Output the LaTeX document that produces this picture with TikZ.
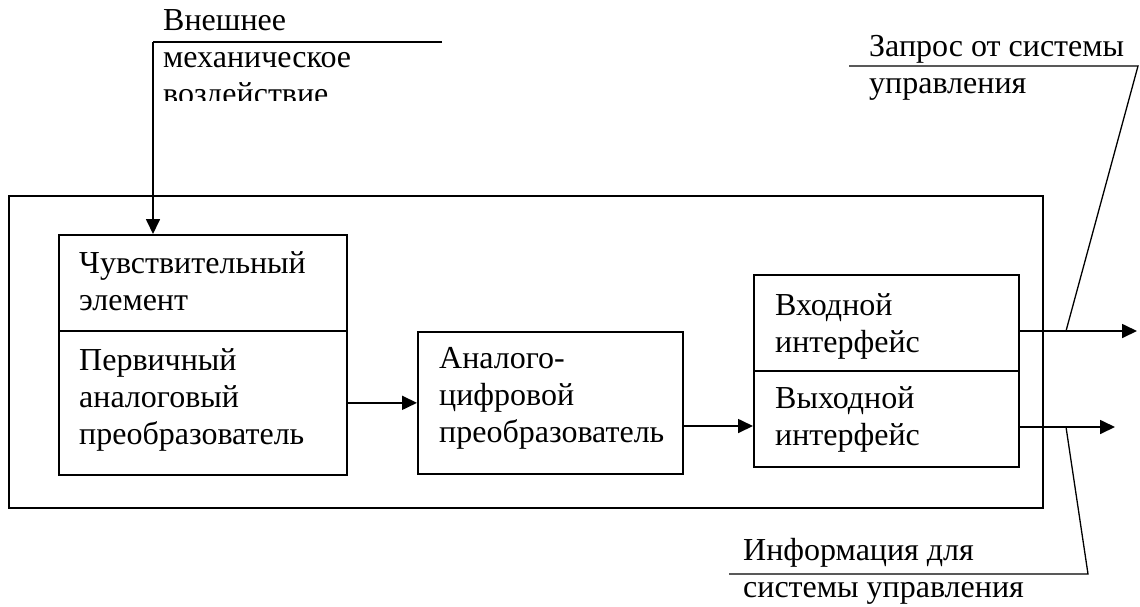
\documentclass[tikz,border=0pt]{standalone}
\usepackage{fontspec}
\setmainfont{Liberation Serif}
\usetikzlibrary{arrows.meta}
% caption lines, aligned on the baseline of the first line
\newcommand\blocklines[1]{\begin{tabular}[t]{@{}l@{}}#1\end{tabular}}
\begin{document}
\begin{tikzpicture}[x=1pt,y=-1pt,
  block/.style={draw,line width=1.7pt,anchor=north west,inner sep=0pt},
  housing/.style={draw,line width=1.6pt,anchor=north west,inner sep=0pt},
  txt/.style={anchor=base west,inner sep=0pt,
              font=\fontsize{32}{37}\selectfont},
  arr/.style={line width=1.7pt,-{Triangle[length=15pt,width=14pt]}},
  lead/.style={line width=1.3pt}]
  \useasboundingbox (0,0) rectangle (1140,606);

  % enclosure of the sensor
  \node[housing,minimum width=1034,minimum height=312] (case) at (8,195) {};

  % functional blocks
  \node[block,minimum width=288,minimum height=96]  (sens) at (58,234) {};
  \node[block,minimum width=288,minimum height=144] (pap)  at (58,330) {};
  \node[block,minimum width=265,minimum height=142] (adc)  at (417,331) {};
  \node[block,minimum width=265,minimum height=96]  (inp)  at (753,274) {};
  \node[block,minimum width=265,minimum height=96]  (outp) at (753,370) {};

  % block captions
  \node[txt] (tsens) at ([shift={(21,39)}]sens.north west) {\blocklines{Чувствительный\\элемент}};
  \node[txt] (tpap)  at ([shift={(21,40)}]pap.north west)  {\blocklines{Первичный\\аналоговый\\преобразователь}};
  \node[txt] (tadc)  at ([shift={(22,37)}]adc.north west)  {\blocklines{Аналого-\\цифровой\\преобразователь}};
  \node[txt] (tinp)  at ([shift={(22,41)}]inp.north west)  {\blocklines{Входной\\интерфейс}};
  \node[txt] (toutp) at ([shift={(22,38)}]outp.north west) {\blocklines{Выходной\\интерфейс}};

  % external mechanical action
  \begin{scope}
    \clip (150,0) rectangle (460,100);
    \node[txt] (tmech) at (163,30) {\blocklines{Внешнее\\механическое\\воздействие}};
  \end{scope}
  \coordinate (mechR) at (442,42);
  \coordinate (mechL) at (153,42);
  \draw[lead] (mechR) -- (mechL);
  \draw[arr] (mechL) -- (mechL |- sens.north);

  % internal signal flow
  \draw[arr] (pap.east) -- (adc.west);
  \coordinate (lvlA) at (0,426);
  \draw[arr] (adc.east |- lvlA) -- (outp.west |- lvlA);

  % request from the control system
  \coordinate (reqTip)  at (1137,331);
  \coordinate (reqFoot) at (1066,331);
  \coordinate (reqBend) at (1138,66);
  \coordinate (reqEnd)  at (849,66);
  \draw[arr] (inp.east |- reqTip) -- (reqTip);
  \draw[lead] (reqFoot) -- (reqBend) -- (reqEnd);
  \node[txt] (treq) at (869,56) {\blocklines{Запрос от системы\\управления}};

  % information for the control system
  \coordinate (infTip)  at (1115,427);
  \coordinate (infFoot) at (1066,427);
  \coordinate (infBend) at (1088,574);
  \coordinate (infEnd)  at (729,574);
  \draw[arr] (outp.east |- infTip) -- (infTip);
  \draw[lead] (infFoot) -- (infBend) -- (infEnd);
  \node[txt] (tinf) at (743,560) {\blocklines{Информация для\\системы управления}};
\end{tikzpicture}
\end{document}
